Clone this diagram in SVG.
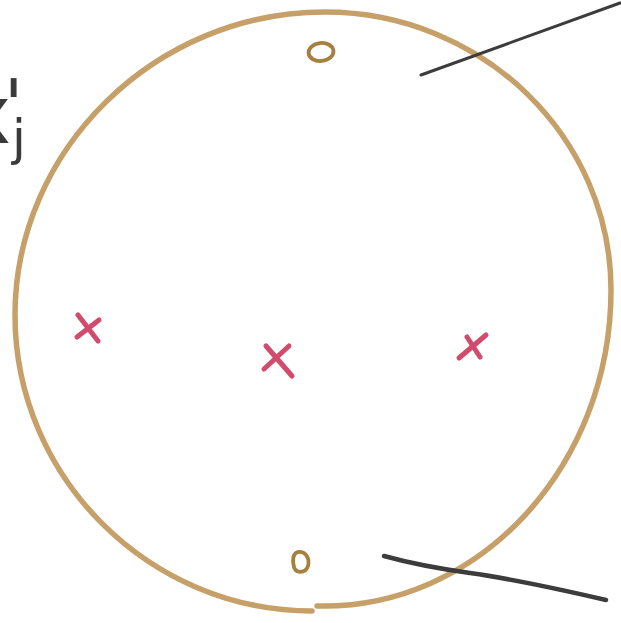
<svg xmlns="http://www.w3.org/2000/svg" width="621" height="623" viewBox="0 0 621 623">
<style>
.ring{fill:none;stroke:#c6a068;stroke-width:5.5;stroke-linecap:round;stroke-linejoin:round}
.hole{fill:none;stroke:#a5803f;stroke-width:3.8}
.cross{stroke:#d24a6c;stroke-width:5;stroke-linecap:round;fill:none}
.pen{fill:none;stroke:#3c3c3c;stroke-linecap:round}
.hand{font-family:"DejaVu Sans",sans-serif;fill:#3a3a3a}
</style>
<rect width="621" height="623" fill="#ffffff"/>
<g id="circle">
<path class="ring" d="M312,611 C150,611 15,478 15,315 C15,150 155,12 325,12 C482,12 611,137 611,290 C611,467 478,610 317,606"/>
</g>
<g id="hole-top"><ellipse class="hole" cx="321" cy="52" rx="12.5" ry="9" transform="rotate(-6 321 52)"/></g>
<g id="hole-bottom"><path class="hole" d="M298,552 C306,551 310,559 308,566 C306,573 296,574 294,567 C292,560 293,553 298,552 Z"/></g>
<g id="cross-left"><path class="cross" d="M78,315 L98,341 M99,320 L77,337"/></g>
<g id="cross-center"><path class="cross" d="M266,346 L292,376 M289,346 L264,369"/></g>
<g id="cross-right"><path class="cross" d="M486,335 L459,358 M467,337 L480,357"/></g>
<g id="connectors">
<path class="pen" stroke-width="3" d="M421,75 L620,3"/>
<path class="pen" stroke-width="4.5" d="M384,556 Q420,566 470,573 T606,600"/>
</g>
<g id="label">
<text class="hand" x="-36" y="143" font-size="80">x<tspan x="4" y="129" font-size="70">'</tspan><tspan x="12" y="155" font-size="50">j</tspan></text>
</g>
</svg>
